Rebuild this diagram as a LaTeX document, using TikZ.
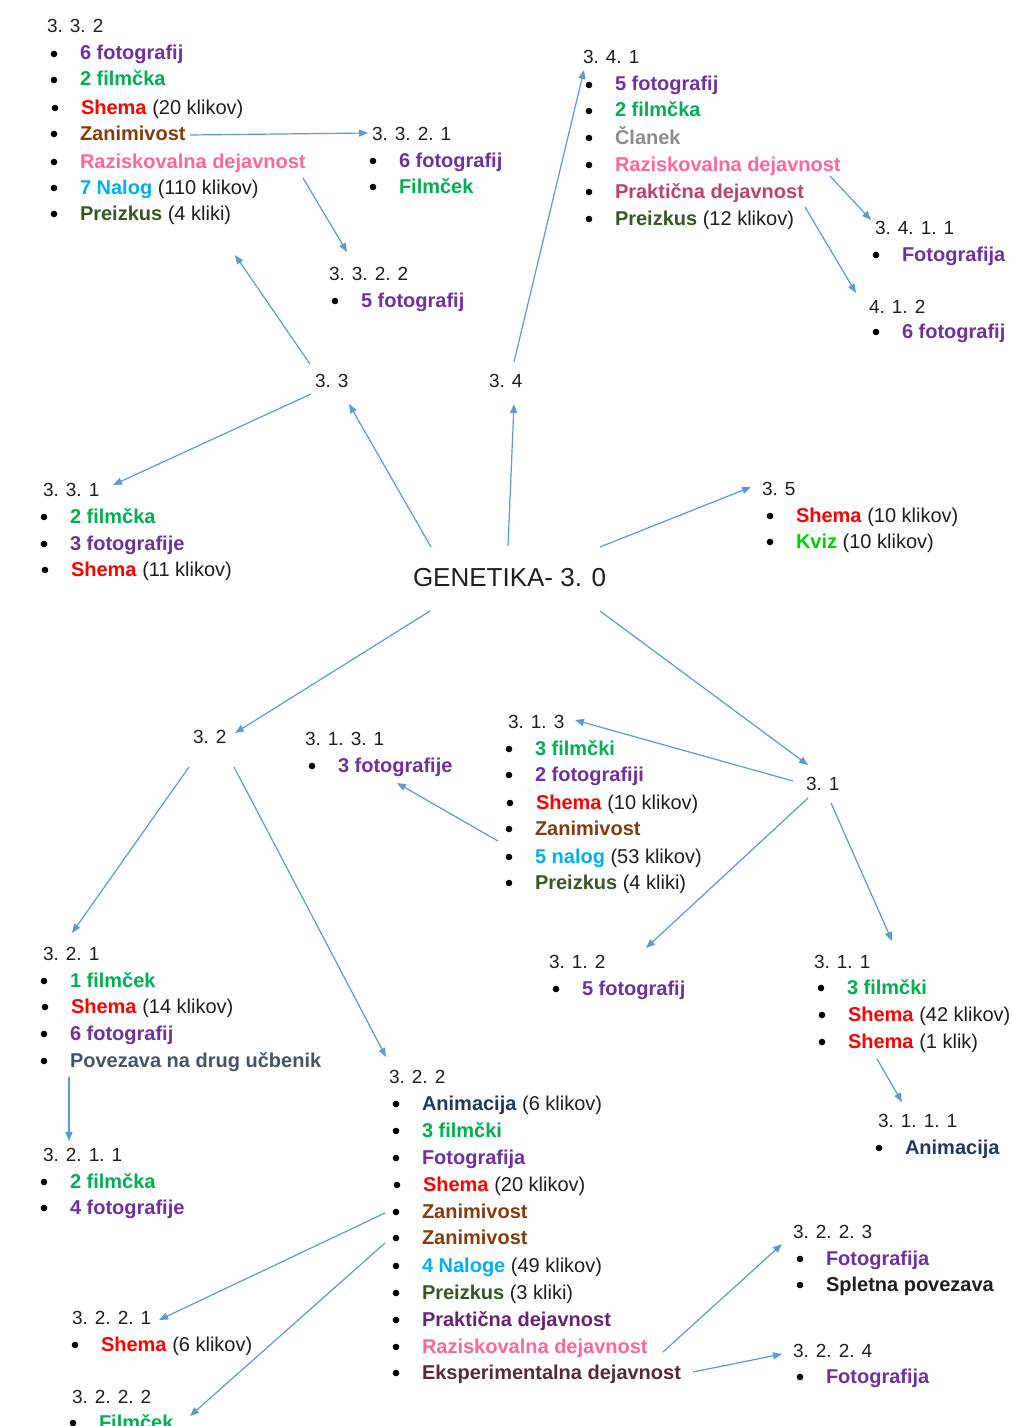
\documentclass[tikz,border=0pt]{standalone}
\usepackage{fontspec}
\setmainfont{Liberation Sans}
\usetikzlibrary{calc,arrows.meta}
\definecolor{cpurple}{HTML}{7030A0}
\definecolor{cgreen}{HTML}{00B050}
\definecolor{cred}{HTML}{FF0000}
\definecolor{cbrown}{HTML}{843C0C}
\definecolor{cpink}{HTML}{FF6699}
\definecolor{ccyan}{HTML}{00B0F0}
\definecolor{cdgreen}{HTML}{385723}
\definecolor{cgray}{HTML}{8C8C8C}
\definecolor{craspb}{HTML}{C0406E}
\definecolor{cdpurple}{HTML}{6A1F78}
\definecolor{cmaroon}{HTML}{5A2838}
\definecolor{cnavy}{HTML}{1F3864}
\definecolor{cslate}{HTML}{44546A}
\definecolor{ckviz}{HTML}{00D000}
\definecolor{ctext}{HTML}{1E1E1E}
\definecolor{carrow}{HTML}{5B9BD5}
\newcommand\cPu[1]{\textcolor{cpurple}{\textbf{#1}}}
\newcommand\cGr[1]{\textcolor{cgreen}{\textbf{#1}}}
\newcommand\cRe[1]{\textcolor{cred}{\textbf{#1}}}
\newcommand\cBr[1]{\textcolor{cbrown}{\textbf{#1}}}
\newcommand\cPk[1]{\textcolor{cpink}{\textbf{#1}}}
\newcommand\cCy[1]{\textcolor{ccyan}{\textbf{#1}}}
\newcommand\cDg[1]{\textcolor{cdgreen}{\textbf{#1}}}
\newcommand\cGy[1]{\textcolor{cgray}{\textbf{#1}}}
\newcommand\cRb[1]{\textcolor{craspb}{\textbf{#1}}}
\newcommand\cDp[1]{\textcolor{cdpurple}{\textbf{#1}}}
\newcommand\cMr[1]{\textcolor{cmaroon}{\textbf{#1}}}
\newcommand\cNv[1]{\textcolor{cnavy}{\textbf{#1}}}
\newcommand\cSl[1]{\textcolor{cslate}{\textbf{#1}}}
\newcommand\cKv[1]{\textcolor{ckviz}{\textbf{#1}}}
\newcommand\cBk[1]{\textbf{#1}}
\tikzset{
  txt/.style={anchor=base west,inner sep=0pt,outer sep=0pt,text=ctext,font=\fontsize{20}{24}\selectfont},
  head/.style={txt,font=\fontsize{19}{23}\selectfont},
  big/.style={txt,font=\fontsize{26}{30}\selectfont},
  arr/.style={draw=carrow,line width=1.2pt,-{Triangle[length=9pt,width=7pt]}}
}
\newcommand\hd[3]{\node[head] (#1) at (#2) {#3};}
\newcommand\itm[3]{\node[txt] (#1) at (#2) {#3};\fill[black] ($(#1.base west)+(-26,-6)$) circle (3.3);}
\begin{document}
\begin{tikzpicture}[x=1pt,y=-1pt]
\useasboundingbox[fill=white] (0,0) rectangle (1012,1426);
% 3.3.2
\hd{h332}{47,33}{3. 3. 2}
\itm{i332a}{80,60}{\cPu{6 fotografij}}
\itm{i332b}{80,86}{\cGr{2 filmčka}}
\itm{i332c}{81,114}{\cRe{Shema} (20 klikov)}
\itm{i332d}{80,140}{\cBr{Zanimivost}}
\itm{i332e}{80,168}{\cPk{Raziskovalna dejavnost}}
\itm{i332f}{80,194}{\cCy{7 Nalog} (110 klikov)}
\itm{i332g}{80,220}{\cDg{Preizkus} (4 kliki)}
% 3.3.2.1
\hd{h3321}{372,140}{3. 3. 2. 1}
\itm{i3321a}{399,167}{\cPu{6 fotografij}}
\itm{i3321b}{399,193}{\cGr{Filmček}}
% 3.3.2.2
\hd{h3322}{329,280}{3. 3. 2. 2}
\itm{i3322a}{361,307}{\cPu{5 fotografij}}
% 3.3 and 3.4
\hd{n33}{315,387}{3. 3}
\hd{n34}{489,387}{3. 4}
% 3.4.1
\hd{h341}{583,64}{3. 4. 1}
\itm{i341a}{615,91}{\cPu{5 fotografij}}
\itm{i341b}{615,117}{\cGr{2 filmčka}}
\itm{i341c}{615,144}{\cGy{Članek}}
\itm{i341d}{615,171}{\cPk{Raziskovalna dejavnost}}
\itm{i341e}{615,198}{\cRb{Praktična dejavnost}}
\itm{i341f}{615,225}{\cDg{Preizkus} (12 klikov)}
% 3.4.1.1
\hd{h3411}{875,234}{3. 4. 1. 1}
\itm{i3411a}{902,261}{\cPu{Fotografija}}
% 4.1.2
\hd{h412}{869,313}{4. 1. 2}
\itm{i412a}{902,338}{\cPu{6 fotografij}}
% 3.3.1
\hd{h331}{43,496}{3. 3. 1}
\itm{i331a}{70,523}{\cGr{2 filmčka}}
\itm{i331b}{70,550}{\cPu{3 fotografije}}
\itm{i331c}{71,576}{\cRe{Shema} (11 klikov)}
% 3.5
\hd{h35}{762,495}{3. 5}
\itm{i35a}{796,522}{\cRe{Shema} (10 klikov)}
\itm{i35b}{796,548}{\cKv{Kviz} (10 klikov)}
% center
\node[big] (gen) at (413,586) {GENETIKA- 3. 0};
% 3.2, 3.1
\hd{n32}{193,743}{3. 2}
\hd{n31}{806,790}{3. 1}
% 3.1.3.1
\hd{h3131}{305,745}{3. 1. 3. 1}
\itm{i3131a}{338,772}{\cPu{3 fotografije}}
% 3.1.3
\hd{h313}{508,728}{3. 1. 3}
\itm{i313a}{535,755}{\cGr{3 filmčki}}
\itm{i313b}{535,781}{\cPu{2 fotografiji}}
\itm{i313c}{536,809}{\cRe{Shema} (10 klikov)}
\itm{i313d}{535,835}{\cBr{Zanimivost}}
\itm{i313e}{535,863}{\cCy{5 nalog} (53 klikov)}
\itm{i313f}{535,889}{\cDg{Preizkus} (4 kliki)}
% 3.1.2
\hd{h312}{549,968}{3. 1. 2}
\itm{i312a}{582,995}{\cPu{5 fotografij}}
% 3.1.1
\hd{h311}{814,968}{3. 1. 1}
\itm{i311a}{847,994}{\cGr{3 filmčki}}
\itm{i311b}{848,1021}{\cRe{Shema} (42 klikov)}
\itm{i311c}{848,1048}{\cRe{Shema} (1 klik)}
% 3.1.1.1
\hd{h3111}{878,1127}{3. 1. 1. 1}
\itm{i3111a}{905,1154}{\cNv{Animacija}}
% 3.2.1
\hd{h321}{43,960}{3. 2. 1}
\itm{i321a}{70,987}{\cGr{1 filmček}}
\itm{i321b}{71,1013}{\cRe{Shema} (14 klikov)}
\itm{i321c}{70,1040}{\cPu{6 fotografij}}
\itm{i321d}{70,1067}{\cSl{Povezava na drug učbenik}}
% 3.2.1.1
\hd{h3211}{43,1161}{3. 2. 1. 1}
\itm{i3211a}{70,1188}{\cGr{2 filmčka}}
\itm{i3211b}{70,1214}{\cPu{4 fotografije}}
% 3.2.2
\hd{h322}{389,1083}{3. 2. 2}
\itm{i322a}{422,1110}{\cNv{Animacija} (6 klikov)}
\itm{i322b}{422,1137}{\cGr{3 filmčki}}
\itm{i322c}{422,1164}{\cPu{Fotografija}}
\itm{i322d}{423,1191}{\cRe{Shema} (20 klikov)}
\itm{i322e}{422,1218}{\cBr{Zanimivost}}
\itm{i322f}{422,1244}{\cBr{Zanimivost}}
\itm{i322g}{422,1272}{\cCy{4 Naloge} (49 klikov)}
\itm{i322h}{422,1299}{\cDg{Preizkus} (3 kliki)}
\itm{i322i}{422,1326}{\cDp{Praktična dejavnost}}
\itm{i322j}{422,1353}{\cPk{Raziskovalna dejavnost}}
\itm{i322k}{422,1379}{\cMr{Eksperimentalna dejavnost}}
% 3.2.2.1
\hd{h3221}{72,1324}{3. 2. 2. 1}
\itm{i3221a}{101,1351}{\cRe{Shema} (6 klikov)}
% 3.2.2.2
\hd{h3222}{72,1403}{3. 2. 2. 2}
\itm{i3222a}{99,1429}{\cGr{Filmček}}
% 3.2.2.3
\hd{h3223}{793,1238}{3. 2. 2. 3}
\itm{i3223a}{826,1265}{\cPu{Fotografija}}
\itm{i3223b}{826,1291}{\cBk{Spletna povezava}}
% 3.2.2.4
\hd{h3224}{793,1357}{3. 2. 2. 4}
\itm{i3224a}{826,1383}{\cPu{Fotografija}}
% arrows
\draw[arr] ($(i332d.base west)+(110,-5)$) -- ($(h3321.base west)+(-4,-7)$);
\draw[arr] ($(i332e.base west)+(223,10)$) -- ($(h3322.base west)+(18,-28)$);
\draw[arr] ($(n33.base west)+(-5,-23)$) -- ($(i332g.base west)+(155,35)$);
\draw[arr] ($(n34.base west)+(25,-25)$) -- ($(h341.base west)+(1,6)$);
\draw[arr] ($(i341d.base west)+(215,5)$) -- ($(h3411.base west)+(-4,-14)$);
\draw[arr] ($(i341e.base west)+(190,9)$) -- ($(h412.base west)+(-13,-20)$);
\draw[arr] ($(n33.base west)+(-4,7)$) -- ($(h331.base west)+(70,-11)$);
\draw[arr] ($(gen.base west)+(18,-39)$) -- ($(n33.base west)+(34,17)$);
\draw[arr] ($(gen.base west)+(95,-40)$) -- ($(n34.base west)+(25,17)$);
\draw[arr] ($(gen.base west)+(187,-39)$) -- ($(h35.base west)+(-11,-8)$);
\draw[arr] ($(gen.base west)+(17,25)$) -- ($(n32.base west)+(42,-10)$);
\draw[arr] ($(gen.base west)+(187,25)$) -- ($(n31.base west)+(2,-25)$);
\draw[arr] ($(n31.base west)+(-13,-9)$) -- ($(h313.base west)+(67,-8)$);
\draw[arr] ($(i313d.base west)+(-37,6)$) -- ($(i3131a.base west)+(59,11)$);
\draw[arr] ($(n31.base west)+(2,8)$) -- ($(h312.base west)+(97,-20)$);
\draw[arr] ($(n31.base west)+(25,13)$) -- ($(h311.base west)+(78,-27)$);
\draw[arr] ($(i311c.base west)+(29,11)$) -- ($(h3111.base west)+(24,-25)$);
\draw[arr] ($(n32.base west)+(-4,24)$) -- ($(h321.base west)+(29,-27)$);
\draw[arr] ($(n32.base west)+(41,24)$) -- ($(h322.base west)+(-3,-26)$);
\draw[arr] ($(i321d.base west)+(-1,10)$) -- ($(h3211.base west)+(26,-20)$);
\draw[arr] ($(i322e.base west)+(-37,-5)$) -- ($(h3221.base west)+(87,-4)$);
\draw[arr] ($(i322f.base west)+(-37,-1)$) -- ($(i3222a.base west)+(91,-13)$);
\draw[arr] ($(i322j.base west)+(241,-1)$) -- ($(h3223.base west)+(-11,6)$);
\draw[arr] ($(i322k.base west)+(271,-7)$) -- ($(h3224.base west)+(-11,-3)$);
\end{tikzpicture}
\end{document}
